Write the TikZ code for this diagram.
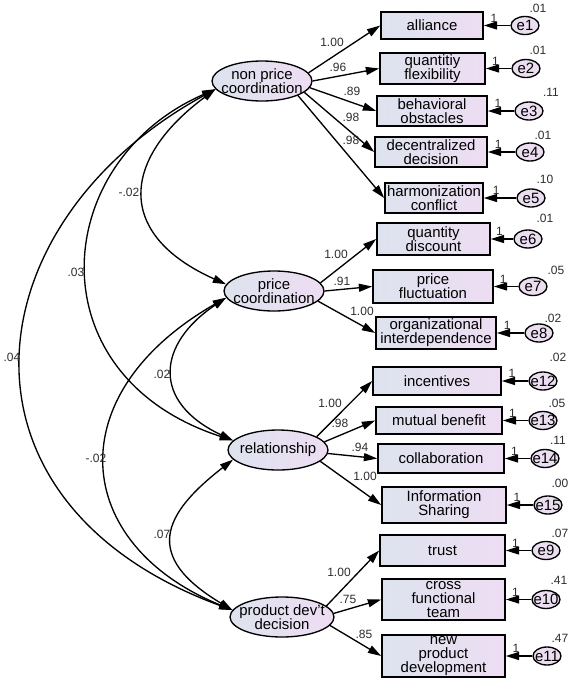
\documentclass[tikz,border=0pt]{standalone}
\usepackage{fontspec}
\setmainfont{Liberation Sans}
\usetikzlibrary{arrows.meta,shapes.geometric}
\definecolor{boxleft}{RGB}{221,227,238}
\definecolor{boxright}{RGB}{238,221,243}
\definecolor{errfill}{RGB}{236,222,241}
\definecolor{labelgray}{RGB}{45,45,45}

\begin{document}
\begin{tikzpicture}[
    x=0.75pt, y=-0.75pt,
    lat/.style={ellipse, draw, line width=1pt, left color=boxleft, right color=boxright,
      inner sep=-4.5pt, minimum width=75pt, minimum height=30pt, align=center,
      font=\fontsize{11.2}{11}\selectfont},
    obs/.style={rectangle, draw, line width=1.2pt, left color=boxleft, right color=boxright,
      inner sep=1pt, align=center, font=\fontsize{11.2}{10.5}\selectfont},
    err/.style={ellipse, draw, line width=1pt, fill=errfill, inner sep=-2.5pt,
      minimum width=21pt, minimum height=13.5pt, font=\fontsize{11.2}{11}\selectfont},
    arr/.style={-{Triangle[length=10pt,width=6pt]}, line width=1pt},
    cov/.style={{Triangle[length=10pt,width=6pt]}-{Triangle[length=10pt,width=6pt]}, line width=1pt},
    tiny/.style={font=\fontsize{9}{9}\selectfont, text=labelgray, inner sep=0pt},
    one/.style={tiny, pos=0.62, above=2pt}
  ]
  \useasboundingbox (0,0) rectangle (572,683);

  \node[lat] (npc) at (262,81) {non price\\coordination};
  \node[lat] (pc) at (274,291) {price\\coordination};
  \node[lat] (rel) at (278,450) {relationship};
  \node[lat] (pdd) at (282,617) {product dev't\\decision};

  \node[obs, minimum width=76.5pt, minimum height=20.25pt] (al) at (432,25.5) {alliance};
  \node[obs, minimum width=78.75pt, minimum height=23.25pt] (qf) at (432.5,68.5) {quantitiy\\flexibility};
  \node[obs, minimum width=82.5pt, minimum height=22.5pt] (bo) at (432,111) {behavioral\\obstacles};
  \node[obs, minimum width=84pt, minimum height=22.5pt] (dd) at (431,152) {decentralized\\decision};
  \node[obs, minimum width=73.5pt, minimum height=22.5pt] (hc) at (434,198) {harmonization\\conflict};
  \node[obs, minimum width=84.75pt, minimum height=24pt] (qd) at (433.5,239) {quantity\\discount};
  \node[obs, minimum width=90pt, minimum height=24.75pt] (pf) at (433,286.5) {price\\fluctuation};
  \node[obs, minimum width=90pt, minimum height=24pt] (oi) at (436,333) {organizational\\interdependence};
  \node[obs, minimum width=96pt, minimum height=21pt] (inc) at (437,381) {incentives};
  \node[obs, minimum width=94.5pt, minimum height=20.25pt] (mb) at (439,420.5) {mutual benefit};
  \node[obs, minimum width=94.5pt, minimum height=21.75pt] (col) at (441,458.5) {collaboration};
  \node[obs, minimum width=93pt, minimum height=27pt] (ish) at (444,505) {Information\\Sharing};
  \node[obs, minimum width=93.75pt, minimum height=23.25pt] (tr) at (442.5,550.5) {trust};
  \node[obs, minimum width=92.25pt, minimum height=30.75pt] (cft) at (443.5,599.5) {cross\\functional\\team};
  \node[obs, minimum width=92.25pt, minimum height=31.5pt] (npd) at (443.5,656) {new\\product\\development};

  \node[err] (e1) at (525,25.5) {e1};
  \node[err] (e2) at (526,68.5) {e2};
  \node[err] (e3) at (529,111) {e3};
  \node[err] (e4) at (530,152) {e4};
  \node[err] (e5) at (531,198) {e5};
  \node[err] (e6) at (528,239) {e6};
  \node[err] (e7) at (533,286.5) {e7};
  \node[err] (e8) at (539,333) {e8};
  \node[err] (e12) at (543,381) {e12};
  \node[err] (e13) at (543,420.5) {e13};
  \node[err] (e14) at (545,458.5) {e14};
  \node[err] (e15) at (548,505) {e15};
  \node[err] (e9) at (546,550.5) {e9};
  \node[err] (e10) at (546,599.5) {e10};
  \node[err] (e11) at (547,656) {e11};

  \draw[arr] (e1) -- node[one] (o1) {1} (al);
  \draw[arr] (e2) -- node[one] (o2) {1} (qf);
  \draw[arr] (e3) -- node[one] (o3) {1} (bo);
  \draw[arr] (e4) -- node[one] (o4) {1} (dd);
  \draw[arr] (e5) -- node[one] (o5) {1} (hc);
  \draw[arr] (e6) -- node[one] (o6) {1} (qd);
  \draw[arr] (e7) -- node[one] (o7) {1} (pf);
  \draw[arr] (e8) -- node[one] (o8) {1} (oi);
  \draw[arr] (e12) -- node[one] (o12) {1} (inc);
  \draw[arr] (e13) -- node[one] (o13) {1} (mb);
  \draw[arr] (e14) -- node[one] (o14) {1} (col);
  \draw[arr] (e15) -- node[one] (o15) {1} (ish);
  \draw[arr] (e9) -- node[one] (o9) {1} (tr);
  \draw[arr] (e10) -- node[one] (o10) {1} (cft);
  \draw[arr] (e11) -- node[one] (o11) {1} (npd);

  \node[tiny] (v1) at (538,8) {.01};
  \node[tiny] (v2) at (538,50) {.01};
  \node[tiny] (v3) at (551,92) {.11};
  \node[tiny] (v4) at (543,135) {.01};
  \node[tiny] (v5) at (545,179) {.10};
  \node[tiny] (v6) at (545,218) {.01};
  \node[tiny] (v7) at (556,270) {.05};
  \node[tiny] (v8) at (553,318) {.02};
  \node[tiny] (v12) at (558,357) {.02};
  \node[tiny] (v13) at (557,403) {.05};
  \node[tiny] (v14) at (558,440) {.11};
  \node[tiny] (v15) at (560,483) {.00};
  \node[tiny] (v9) at (560,533) {.07};
  \node[tiny] (v10) at (559,580) {.41};
  \node[tiny] (v11) at (560,638) {.47};

  \draw[arr] (npc.10) -- (al.west);
  \draw[arr] (npc.0) -- (qf.west);
  \draw[arr] (npc.-8) -- (bo.west);
  \draw[arr] (npc.-15) -- (dd.west);
  \draw[arr] (npc.-22) -- (hc.west);
  \draw[arr] (pc.10) -- (qd.west);
  \draw[arr] (pc.0) -- (pf.west);
  \draw[arr] (pc.-13) -- (oi.west);
  \draw[arr] (rel.19) -- (inc.west);
  \draw[arr] (rel.10) -- (mb.west);
  \draw[arr] (rel.-4) -- (col.west);
  \draw[arr] (rel.-15) -- (ish.west);
  \draw[arr] (pdd.14) -- (tr.west);
  \draw[arr] (pdd.4) -- (cft.west);
  \draw[arr] (pdd.-10) -- (npd.west);

  \node[tiny] (l1) at (332,42) {1.00};
  \node[tiny] (l2) at (338,67) {.96};
  \node[tiny] (l3) at (352,91) {.89};
  \node[tiny] (l4) at (351,117) {.98};
  \node[tiny] (l5) at (351,140) {.98};
  \node[tiny] (l6) at (336,254) {1.00};
  \node[tiny] (l7) at (342,281) {.91};
  \node[tiny] (l8) at (362,311) {1.00};
  \node[tiny] (l9) at (330,403) {1.00};
  \node[tiny] (l10) at (340,423) {.98};
  \node[tiny] (l11) at (360,447) {.94};
  \node[tiny] (l12) at (365,476) {1.00};
  \node[tiny] (l13) at (339,572) {1.00};
  \node[tiny] (l14) at (348,599) {.75};
  \node[tiny] (l15) at (364,634) {.85};

  \draw[cov] (npc.190) .. controls (120,160) and (116,235) .. (pc.172);
  \draw[cov] (npc.190) .. controls (49,162) and (34,376) .. (rel.168);
  \draw[cov] (npc.190) .. controls (-31,224) and (-60,503) .. (pdd.172);
  \draw[cov] (pc.188) .. controls (157,344) and (151,402) .. (rel.168);
  \draw[cov] (pc.188) .. controls (58,394) and (71,544) .. (pdd.172);
  \draw[cov] (rel.192) .. controls (163,514) and (142,556) .. (pdd.172);

  \node[tiny] (c1) at (129,192) {-.02};
  \node[tiny] (c2) at (76,272) {.03};
  \node[tiny] (c3) at (12,357) {.04};
  \node[tiny] (c4) at (162,374) {.02};
  \node[tiny] (c5) at (96,458) {-.02};
  \node[tiny] (c6) at (162,534) {.07};
\end{tikzpicture}
\end{document}
